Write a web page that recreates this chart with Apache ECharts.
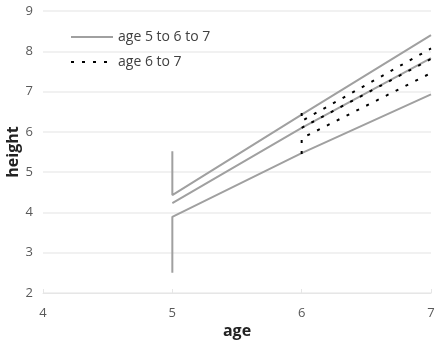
<!DOCTYPE html>
<html>
<head>
<meta charset="utf-8">
<script src="https://cdn.jsdelivr.net/npm/echarts@6/dist/echarts.min.js"></script>
<style>
    html, body { margin: 0; padding: 0; background: #fff; }
    #chart { width: 436px; height: 350px; }
</style>
</head>
<body>
<div id="chart"></div>
<script>
// solid lines: age 5 to 6 to 7 (upper / middle / lower, with the interval bar at age 5)
var solidUpper = [[5, 5.52], [5, 4.43], [6, 6.43], [7, 8.40]];
var solidMiddle = [[5, 4.23], [6, 6.10], [7, 7.83]];
var solidLower = [[5, 2.50], [5, 3.89], [6, 5.47], [7, 6.93]];

// dotted lines: age 6 to 7 (with the interval bar at age 6)
var dotUpper = [[6, 6.47], [6, 6.27], [7, 8.07]];
var dotMiddle = [[6, 6.10], [7, 7.81]];
var dotLower = [[6, 5.45], [6, 5.84], [7, 7.46]];

var solidName = 'age 5 to 6 to 7';
var dotName = 'age 6 to 7';

var myChart = echarts.init(document.getElementById('chart'));

function solid(data) {
    return {
        name: solidName,
        type: 'line',
        data: data,
        symbol: 'none',
        animation: false,
        lineStyle: { color: '#a0a0a0', width: 2 },
        itemStyle: { color: '#a0a0a0' }
    };
}
function dotted(data) {
    return {
        name: dotName,
        type: 'line',
        data: data,
        symbol: 'none',
        animation: false,
        lineStyle: { color: '#000', width: 2, type: [3, 8] },
        itemStyle: { color: '#000' }
    };
}

var option = {
    backgroundColor: '#fff',
    textStyle: { fontFamily: 'Open Sans' },
    grid: {
        left: 43,
        right: 5,
        top: 11,
        bottom: 57,
        outerBoundsMode: 'none'
    },
    legend: {
        data: [solidName, dotName],
        orient: 'vertical',
        left: 65,
        top: 25,
        itemWidth: 42,
        itemHeight: 12,
        itemGap: 11,
        itemStyle: { opacity: 0 },
        textStyle: { color: '#404040', fontSize: 14, fontFamily: 'Open Sans' }
    },
    xAxis: {
        type: 'value',
        min: 4,
        max: 7,
        interval: 1,
        name: 'age',
        nameLocation: 'middle',
        nameGap: 30,
        nameMoveOverlap: false,
        nameTextStyle: { fontSize: 16, fontWeight: 'bold', color: '#222' },
        axisLine: { show: true, lineStyle: { color: '#e6e6e6' } },
        axisTick: { show: true, length: 4, inside: true, lineStyle: { color: '#e6e6e6' } },
        axisLabel: { color: '#595959', fontSize: 13, margin: 14 },
        splitLine: { show: false }
    },
    yAxis: {
        type: 'value',
        min: 2,
        max: 9,
        interval: 1,
        name: 'height',
        nameLocation: 'middle',
        nameGap: 22,
        nameMoveOverlap: false,
        nameTextStyle: { fontSize: 16, fontWeight: 'bold', color: '#222' },
        axisLine: { show: false },
        axisTick: { show: false },
        axisLabel: { color: '#595959', fontSize: 13, margin: 10 },
        splitLine: { show: true, lineStyle: { color: '#ececec', width: 1.5 } }
    },
    series: [
        solid(solidUpper),
        solid(solidMiddle),
        solid(solidLower),
        dotted(dotUpper),
        dotted(dotMiddle),
        dotted(dotLower)
    ]
};

myChart.setOption(option, true);
</script>
</body>
</html>
